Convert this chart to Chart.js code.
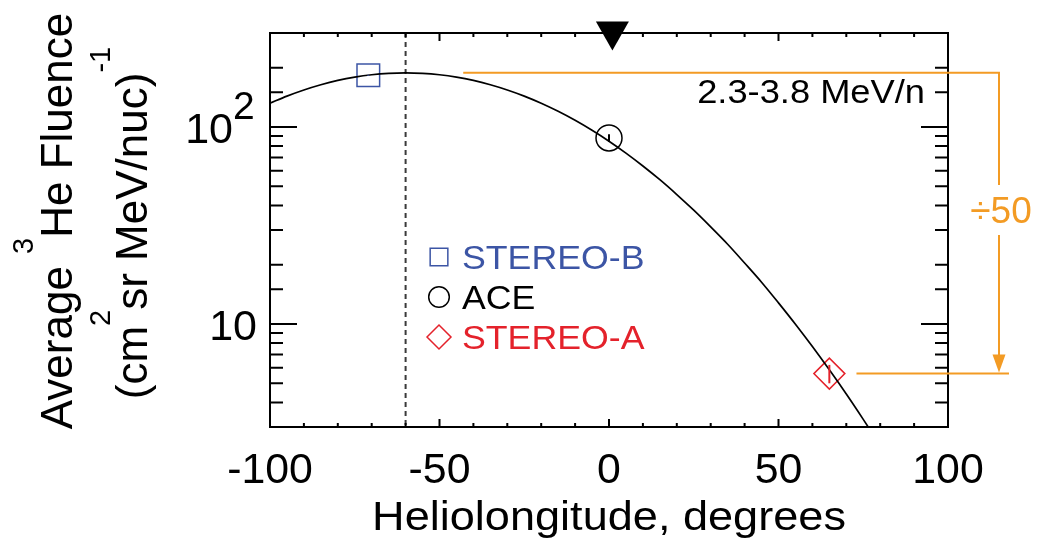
<!DOCTYPE html>
<html>
<head>
<meta charset="utf-8">
<script src="https://cdn.jsdelivr.net/npm/chart.js@4.4.1/dist/chart.umd.min.js"></script>
<style>
  html, body { margin: 0; padding: 0; background: #ffffff; }
  #wrap { width: 1047px; height: 542px; position: relative; }
</style>
</head>
<body>
<div id="wrap"><canvas id="c" width="1047" height="542"></canvas></div>
<script>
// Spacecraft observations
const spacecraft = ['STEREO-B', 'ACE', 'STEREO-A'];
const longitudes = [-71, 0, 65];
const fluence = [183, 88, 5.6];
const fluenceErr = [1, 4, 0.6];
const markerColors = ['#3c55a5', '#000000', '#e4222b'];
const markerStyles = ['rect', 'circle', 'rectRot'];

// Gaussian fit curve read along the longitude axis
const fitLongitudes = [-100, -95, -90, -85, -80, -75, -70, -65, -60, -55, -50, -45, -40, -35, -30, -25, -20, -15,
  -10, -5, 0, 5, 10, 15, 20, 25, 30, 35, 40, 45, 50, 55, 60, 65, 70, 75, 80];
const fitFluence = [132.0, 143.5, 154.2, 163.9, 172.4, 179.2, 184.2, 187.3, 188.4, 187.3, 184.2, 179.2, 172.4, 163.9,
  154.2, 143.5, 132.0, 120.1, 108.1, 96.2, 84.7, 73.7, 63.4, 54.0, 45.4, 37.8, 31.1, 25.4, 20.4, 16.3, 12.8, 9.97,
  7.68, 5.85, 4.41, 3.28, 2.42];
const fitCenter = -60;          // longitude of the fit maximum (dashed line)
const flareLongitude = 1;       // source longitude (triangle on top axis)

// Axis settings
const xRange = [-100, 100];
const yRange = [3, 300];
const xTickLabels = [-100, -50, 0, 50, 100];
const yTickLabels = [10, 100];
const energyLabel = '2.3-3.8 MeV/n';
const ratioLabel = '÷50';
const ratioStartLon = [-43, 73];   // where the upper / lower orange guides start

const FONT = '"Liberation Sans", Arial, Helvetica, sans-serif';
const ORANGE = '#f39b24';

function txt(ctx, s, x, y, size, opt) {
  opt = opt || {};
  ctx.save();
  ctx.font = size + 'px ' + FONT;
  ctx.fillStyle = opt.color || '#000';
  ctx.textBaseline = 'alphabetic';
  ctx.translate(x, y);
  const sx = opt.sx || 1;
  ctx.scale(sx, 1);
  const w = ctx.measureText(s).width;
  let dx = 0;
  if (opt.align === 'center') dx = -w / 2;
  else if (opt.align === 'right') dx = -w;
  ctx.fillText(s, dx, 0);
  ctx.restore();
}

// rich text: parts [{t, size, rise}]
function rich(ctx, parts, cx, cy, rot) {
  ctx.save();
  ctx.translate(cx, cy);
  ctx.rotate(rot || 0);
  ctx.fillStyle = '#000';
  let total = 0;
  parts.forEach(p => { ctx.font = p.size + 'px ' + FONT; p.w = ctx.measureText(p.t).width; total += p.w; });
  let x = -total / 2;
  parts.forEach(p => { ctx.font = p.size + 'px ' + FONT; ctx.fillText(p.t, x, -(p.rise || 0)); x += p.w; });
  ctx.restore();
}

function marker(ctx, style, x, y, r, color) {
  ctx.save();
  ctx.strokeStyle = color;
  ctx.lineWidth = 1.5;
  ctx.beginPath();
  if (style === 'rect') {
    const s = r * Math.SQRT1_2;
    ctx.rect(x - s, y - s, 2 * s, 2 * s);
  } else if (style === 'circle') {
    ctx.arc(x, y, r, 0, Math.PI * 2);
  } else {
    ctx.moveTo(x - r, y); ctx.lineTo(x, y - r); ctx.lineTo(x + r, y); ctx.lineTo(x, y + r); ctx.closePath();
  }
  ctx.stroke();
  ctx.restore();
}

const frameAndAnnotations = {
  id: 'frameAndAnnotations',
  beforeDatasetsDraw(chart) {
    const { ctx, chartArea: a, scales: { x } } = chart;
    const px = x.getPixelForValue(fitCenter);
    ctx.save();
    ctx.strokeStyle = '#3a3a3a';
    ctx.lineWidth = 2;
    ctx.setLineDash([5, 4]);
    ctx.beginPath(); ctx.moveTo(px, a.top); ctx.lineTo(px, a.bottom); ctx.stroke();
    ctx.restore();
  },
  afterDatasetsDraw(chart) {
    const { ctx, chartArea: a, scales: { x, y } } = chart;

    // error bars
    spacecraft.forEach((name, i) => {
      const meta = chart.getDatasetMeta(i + 1);
      const pt = meta.data[0];
      const y1 = y.getPixelForValue(fluence[i] + fluenceErr[i]);
      const y2 = y.getPixelForValue(fluence[i] - fluenceErr[i]);
      ctx.save();
      ctx.strokeStyle = markerColors[i];
      ctx.lineWidth = 2;
      ctx.beginPath(); ctx.moveTo(pt.x, y1); ctx.lineTo(pt.x, y2); ctx.stroke();
      ctx.restore();
    });

    // frame
    ctx.save();
    ctx.strokeStyle = '#000';
    ctx.lineWidth = 2;
    ctx.strokeRect(a.left, a.top, a.right - a.left, a.bottom - a.top);

    // x ticks (bottom and top, inward)
    const xt = x.ticks.length ? x.ticks.map(t => t.value) : [];
    xt.forEach(v => {
      const p = x.getPixelForValue(v);
      const len = (Math.abs(v) % 50 === 0) ? 8 : 4;
      ctx.beginPath();
      ctx.moveTo(p, a.bottom); ctx.lineTo(p, a.bottom - len);
      ctx.moveTo(p, a.top); ctx.lineTo(p, a.top + len);
      ctx.stroke();
    });
    // y ticks (left and right, inward)
    y.ticks.forEach(t => {
      const v = t.value;
      const p = y.getPixelForValue(v);
      const lg = Math.log10(v);
      const len = Math.abs(lg - Math.round(lg)) < 1e-9 ? 27 : 13;
      ctx.beginPath();
      ctx.moveTo(a.left, p); ctx.lineTo(a.left + len, p);
      ctx.moveTo(a.right, p); ctx.lineTo(a.right - len, p);
      ctx.stroke();
    });
    ctx.restore();
  },
  afterDraw(chart) {
    const { ctx, chartArea: a, scales: { x, y } } = chart;

    // flare longitude marker
    const fx = x.getPixelForValue(flareLongitude);
    ctx.save();
    ctx.fillStyle = '#000';
    ctx.beginPath();
    ctx.moveTo(fx - 16.5, a.top - 11.5);
    ctx.lineTo(fx + 16.5, a.top - 11.5);
    ctx.lineTo(fx, a.top + 17.5);
    ctx.closePath(); ctx.fill();
    ctx.restore();

    // x tick labels
    xTickLabels.forEach(v => {
      txt(ctx, String(v), x.getPixelForValue(v), 483, 42, { align: 'center', sx: 1.02 });
    });
    // y tick labels
    yTickLabels.forEach(v => {
      const p = y.getPixelForValue(v);
      const e = Math.round(Math.log10(v));
      if (e === 1) {
        txt(ctx, '10', a.left - 13, p + 16, 43, { align: 'right' });
      } else {
        txt(ctx, '10', a.left - 37, p + 16, 43, { align: 'right' });
        txt(ctx, String(e), a.left - 37, p - 8, 39, { align: 'left' });
      }
    });

    // axis titles
    txt(ctx, 'Heliolongitude, degrees', (a.left + a.right) / 2, 530, 41, { align: 'center', sx: 1.1 });
    rich(ctx, [
      { t: 'Average ', size: 44 }, { t: '3', size: 29, rise: 39 }, { t: 'He Fluence', size: 44 }
    ], 72, 221, -Math.PI / 2);
    rich(ctx, [
      { t: '(cm', size: 44 }, { t: '2', size: 29, rise: 37 }, { t: 'sr MeV/nuc)', size: 44 }, { t: '-1', size: 29, rise: 37 }
    ], 147, 223, -Math.PI / 2);

    // energy band label
    txt(ctx, energyLabel, 925, 103, 34, { align: 'right', sx: 1.067 });

    // legend
    const legendR = [12.5, 10.3, 12];
    spacecraft.forEach((name, i) => {
      const cy = 257 + i * 40;
      marker(ctx, markerStyles[i], 439, cy, legendR[i], markerColors[i]);
      txt(ctx, name, 462, cy + 11.5, 34, { color: markerColors[i], sx: 1.05 });
    });

    // orange ratio guides
    const yHi = y.getPixelForValue(Math.max(...fitFluence));
    const yLo = y.getPixelForValue(fluence[2]);
    const vx = a.right + 51;
    ctx.save();
    ctx.strokeStyle = ORANGE;
    ctx.fillStyle = ORANGE;
    ctx.lineWidth = 2;
    ctx.beginPath();
    ctx.moveTo(x.getPixelForValue(ratioStartLon[0]), yHi); ctx.lineTo(vx + 1, yHi);
    ctx.moveTo(vx, yHi); ctx.lineTo(vx, 185);
    ctx.moveTo(vx, 235); ctx.lineTo(vx, yLo - 16);
    ctx.moveTo(x.getPixelForValue(ratioStartLon[1]), yLo); ctx.lineTo(a.right + 61, yLo);
    ctx.stroke();
    ctx.beginPath();
    ctx.moveTo(vx - 6.5, yLo - 19); ctx.lineTo(vx + 6.5, yLo - 19); ctx.lineTo(vx, yLo - 1); ctx.closePath();
    ctx.fill();
    ctx.restore();
    txt(ctx, ratioLabel, vx + 2, 223, 37, { align: 'center', color: ORANGE });
  }
};

const datasets = [{
  label: 'fit',
  data: fitLongitudes.map((lon, i) => ({ x: lon, y: fitFluence[i] })),
  showLine: true,
  borderColor: '#000',
  borderWidth: 1.7,
  pointRadius: 0,
  cubicInterpolationMode: 'monotone'
}].concat(spacecraft.map((name, i) => ({
  label: name,
  data: [{ x: longitudes[i], y: fluence[i] }],
  pointStyle: markerStyles[i],
  pointRadius: [16, 13, 15.5][i],
  borderColor: markerColors[i],
  backgroundColor: 'rgba(0,0,0,0)',
  borderWidth: 1.5
})));

new Chart(document.getElementById('c'), {
  type: 'scatter',
  data: { datasets },
  options: {
    responsive: false,
    animation: false,
    devicePixelRatio: 1,
    layout: { padding: { left: 270, right: 99, top: 33, bottom: 115 } },
    plugins: { legend: { display: false }, tooltip: { enabled: false } },
    scales: {
      x: {
        type: 'linear', min: xRange[0], max: xRange[1],
        ticks: { stepSize: 10, display: false },
        grid: { display: false, drawTicks: false },
        border: { display: false }
      },
      y: {
        type: 'logarithmic', min: yRange[0], max: yRange[1],
        ticks: { display: false },
        grid: { display: false, drawTicks: false },
        border: { display: false }
      }
    }
  },
  plugins: [frameAndAnnotations]
});
</script>
</body>
</html>
